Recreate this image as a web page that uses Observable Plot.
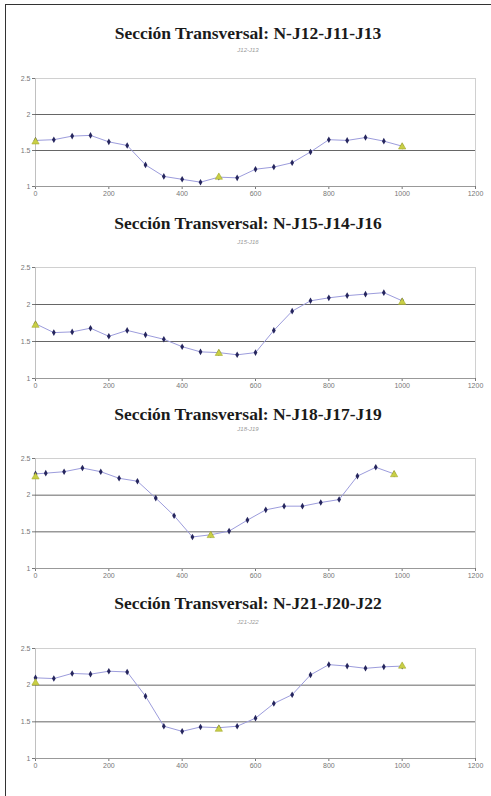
<!DOCTYPE html>
<html><head><meta charset="utf-8">
<script src="https://cdn.jsdelivr.net/npm/d3@7"></script>
<script src="https://cdn.jsdelivr.net/npm/@observablehq/plot@0.6"></script>
<style>
body{margin:0;background:#fff;}
#wrap{position:relative;width:491px;height:796px;overflow:hidden;background:#fff;}
#frame{position:absolute;left:5px;top:4px;width:520px;height:820px;border-left:1.5px solid #333;border-top:1.5px solid #333;}
.t{position:absolute;left:5px;width:486px;text-align:center;font-family:"Liberation Serif",serif;font-weight:bold;font-size:17.5px;line-height:20px;color:#1a1a1a;white-space:nowrap;}
.s{position:absolute;left:5px;width:486px;text-align:center;font-family:"Liberation Sans",sans-serif;font-style:italic;font-size:6px;line-height:7px;color:#999;}
.p{position:absolute;left:0;}
</style></head>
<body><div id="wrap"><div id="frame"></div></div>
<script>
const titles = [
  "Sección Transversal: N-J12-J11-J13",
  "Sección Transversal: N-J15-J14-J16",
  "Sección Transversal: N-J18-J17-J19",
  "Sección Transversal: N-J21-J20-J22"
];
const subtitles = ["J12-J13", "J15-J16", "J18-J19", "J21-J22"];

const station = [0, 50, 100, 150, 200, 250, 300, 350, 400, 450, 500, 550, 600, 650, 700, 750, 800, 850, 900, 950, 1000];
const station3 = [0, 28, 78, 128, 178, 228, 278, 328, 378, 428, 478, 528, 578, 628, 678, 728, 778, 828, 878, 928, 978];

const elev1 = [1.64, 1.65, 1.70, 1.71, 1.62, 1.57, 1.30, 1.14, 1.10, 1.06, 1.13, 1.12, 1.24, 1.27, 1.33, 1.48, 1.65, 1.64, 1.68, 1.63, 1.56];
const elev2 = [1.74, 1.62, 1.63, 1.68, 1.57, 1.65, 1.59, 1.53, 1.43, 1.36, 1.35, 1.32, 1.35, 1.65, 1.91, 2.05, 2.09, 2.12, 2.14, 2.16, 2.05];
const elev3 = [2.29, 2.30, 2.32, 2.37, 2.32, 2.23, 2.19, 1.96, 1.72, 1.43, 1.46, 1.51, 1.66, 1.80, 1.85, 1.85, 1.90, 1.94, 2.26, 2.38, 2.29];
const elev4 = [2.10, 2.09, 2.16, 2.15, 2.19, 2.18, 1.85, 1.44, 1.37, 1.43, 1.42, 1.44, 1.55, 1.75, 1.87, 2.14, 2.28, 2.26, 2.23, 2.25, 2.26];

const nodeX1 = [0, 500, 1000], nodeY1 = [1.62, 1.13, 1.55];
const nodeX2 = [0, 500, 1000], nodeY2 = [1.72, 1.34, 2.03];
const nodeX3 = [0, 478, 978],  nodeY3 = [2.25, 1.45, 2.28];
const nodeX4 = [0, 500, 1000], nodeY4 = [2.03, 1.40, 2.26];

const xTicks = [0, 200, 400, 600, 800, 1000, 1200];
const yTicks = [1, 1.5, 2, 2.5];

const panels = [
  {xs: station,  ys: elev1, nx: nodeX1, ny: nodeY1, titleY: 33,  subY: 50,  top: 78,  bottom: 186},
  {xs: station,  ys: elev2, nx: nodeX2, ny: nodeY2, titleY: 223, subY: 242, top: 267, bottom: 378},
  {xs: station3, ys: elev3, nx: nodeX3, ny: nodeY3, titleY: 414, subY: 429, top: 458, bottom: 568},
  {xs: station,  ys: elev4, nx: nodeX4, ny: nodeY4, titleY: 603, subY: 622, top: 648, bottom: 758}
];

const wrap = document.getElementById("wrap");
panels.forEach((p, i) => {
  const t = document.createElement("div");
  t.className = "t"; t.textContent = titles[i];
  t.style.top = (p.titleY - 10) + "px";
  wrap.appendChild(t);
  const s = document.createElement("div");
  s.className = "s"; s.textContent = subtitles[i];
  s.style.top = (p.subY - 3.5) + "px";
  wrap.appendChild(s);

  const data = p.xs.map((x, k) => ({x, y: p.ys[k]}));
  const nodes = p.nx.map((x, k) => ({x, y: p.ny[k]}));
  const mt = 10, mb = 22;
  const chart = Plot.plot({
    width: 491,
    height: mt + (p.bottom - p.top) + mb,
    marginLeft: 35, marginRight: 16, marginTop: mt, marginBottom: mb,
    style: {fontFamily: "Liberation Sans, sans-serif", fontSize: "7px", color: "#777", background: "transparent"},
    x: {domain: [0, 1200], ticks: xTicks, tickSize: 3, tickPadding: 2, tickFormat: d => String(d), label: null},
    y: {domain: [1, 2.5], ticks: yTicks, tickSize: 3, tickPadding: 2, tickFormat: d => String(d), label: null},
    marks: [
      Plot.ruleY([2.5], {stroke: "#d0d0d0"}),
      Plot.ruleX([1200], {stroke: "#d0d0d0"}),
      Plot.ruleX([0], {stroke: "#c0c0c0"}),
      Plot.ruleY([1.5, 2], {stroke: "#666", strokeWidth: 1}),
      Plot.ruleY([1], {stroke: "#999"}),
      Plot.line(data, {x: "x", y: "y", stroke: "#9c9cdc", strokeWidth: 1}),
      Plot.dot(data, {x: "x", y: "y", symbol: "diamond", r: 2, fill: "#26265e", stroke: "none"}),
      Plot.dot(nodes, {x: "x", y: "y", symbol: "triangle", r: 2.7, fill: "#c9cf45", stroke: "#a4ab30", strokeWidth: 0.6})
    ]
  });
  chart.classList.add("p");
  chart.style.top = (p.top - mt) + "px";
  wrap.appendChild(chart);
});
</script>
</body></html>
